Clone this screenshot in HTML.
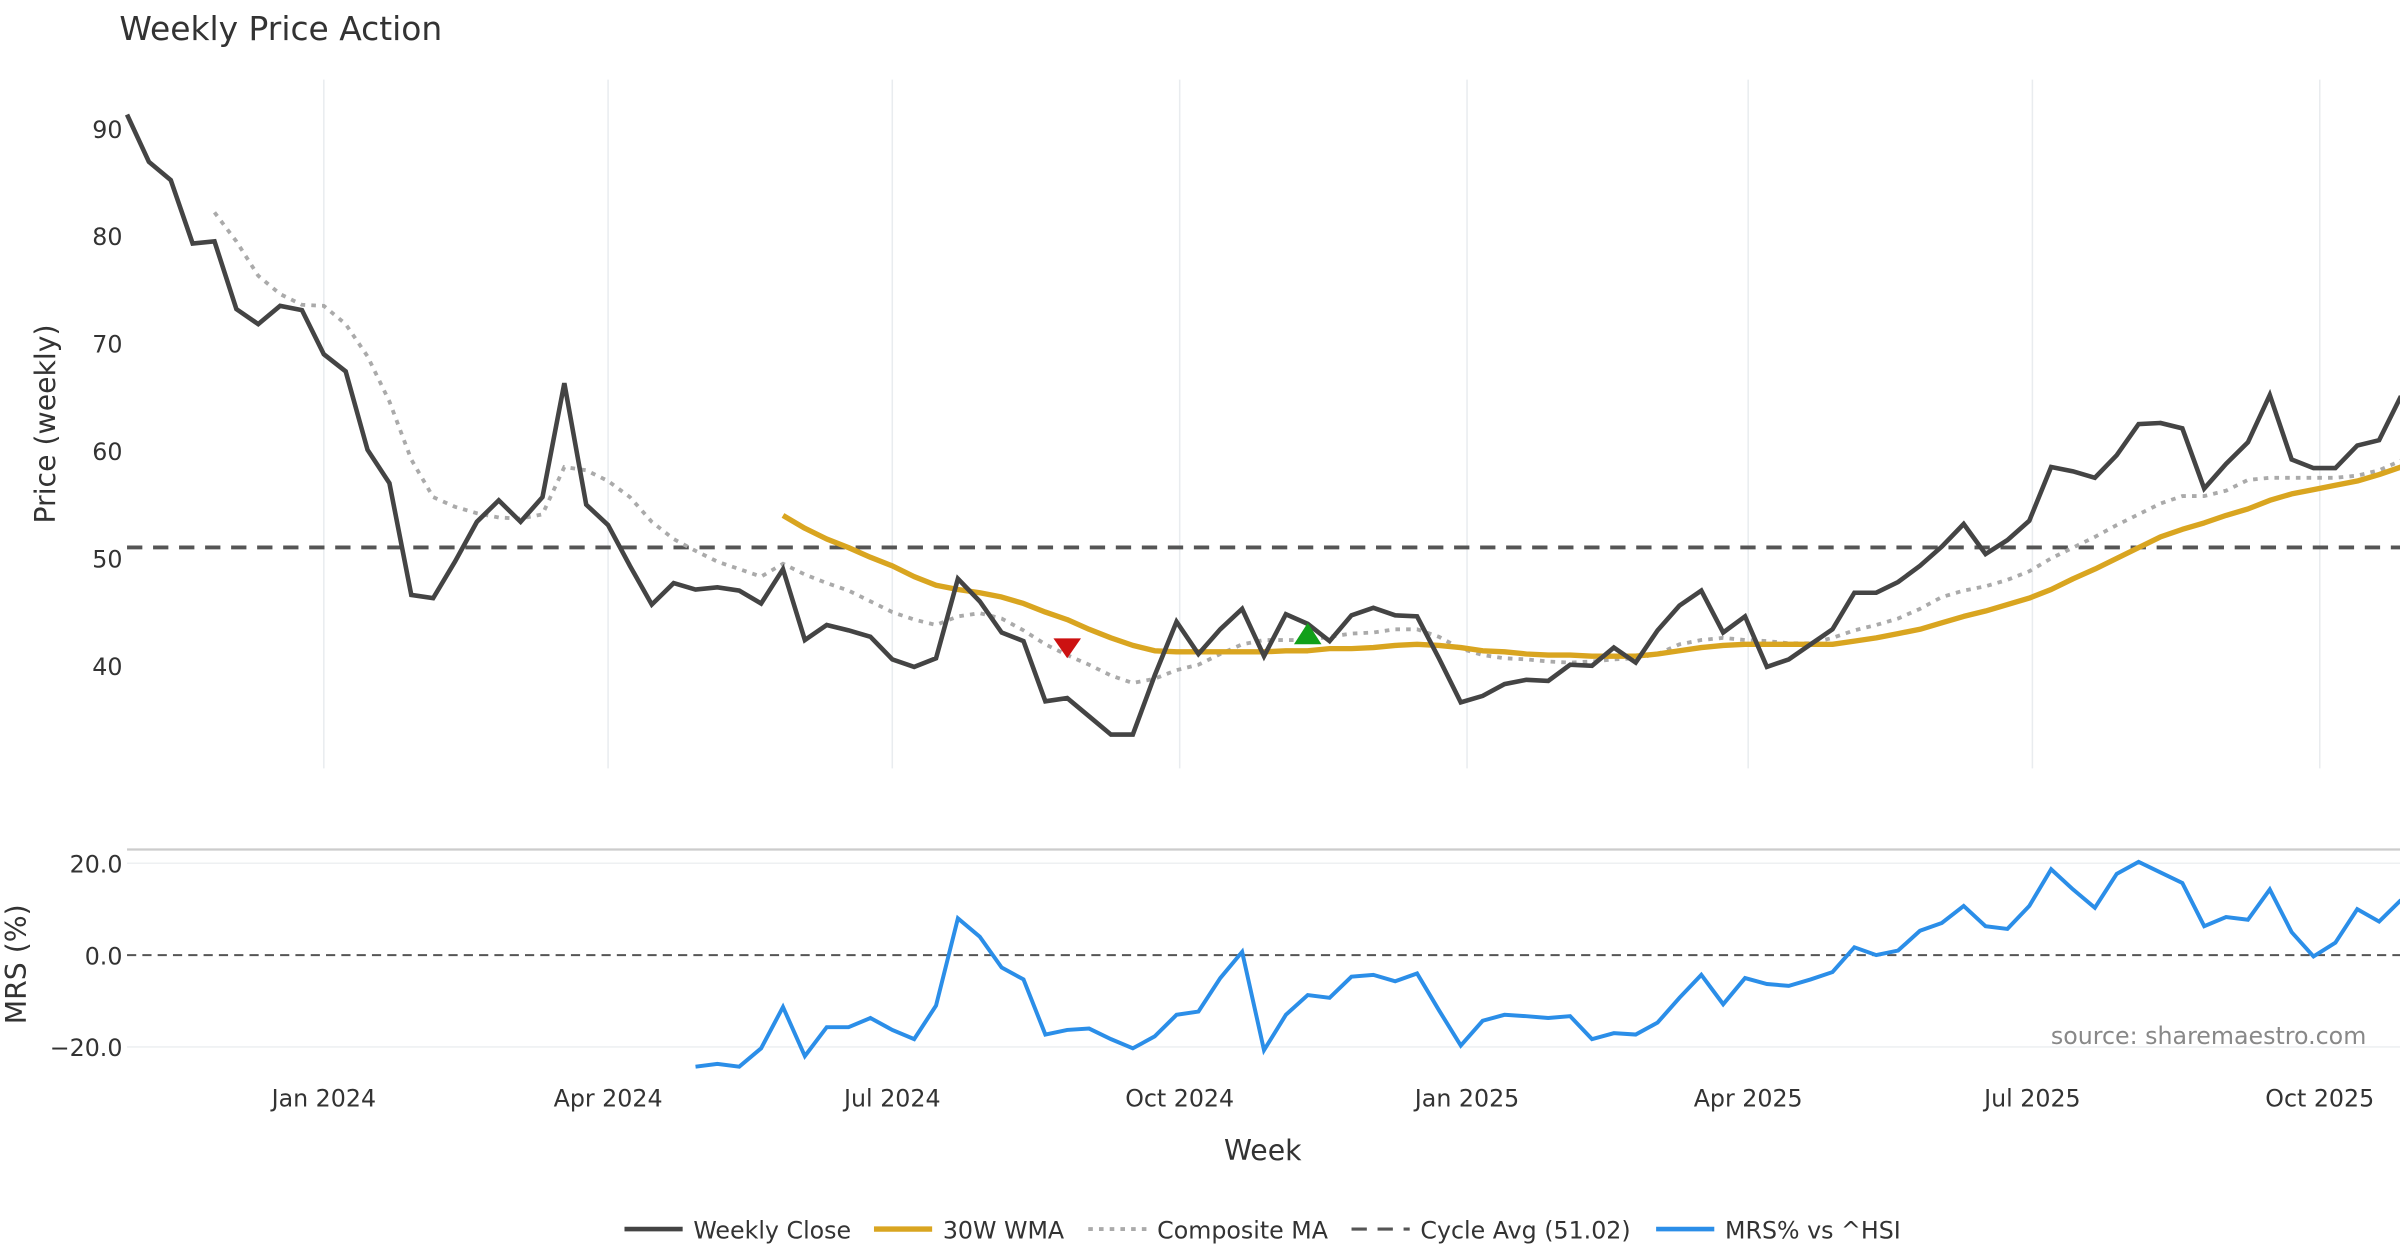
<!DOCTYPE html>
<html><head><meta charset="utf-8"><style>
html,body{margin:0;padding:0;background:#fff;}
svg{display:block;font-family:"DejaVu Sans","Liberation Sans",sans-serif;}
</style></head><body>
<svg id="chart" width="2400" height="1260" viewBox="0 0 1568 823.2" xmlns="http://www.w3.org/2000/svg">
<rect width="1568" height="823.2" fill="#fff"/>
<text x="78" y="26" font-size="21.5" fill="#333">Weekly Price Action</text>
<g id="grid"></g><g id="series"></g><g id="axes"></g>
</svg>
<script>
const startDate = new Date(2023, 9, 30);
const closes = [91.3,86.9,85.2,79.3,79.5,73.2,71.8,73.5,73.1,69,67.4,60.1,57,46.6,46.3,49.7,53.4,55.4,53.4,55.7,66.3,55,53.1,49.3,45.7,47.7,47.1,47.3,47,45.8,49,42.4,43.8,43.3,42.7,40.6,39.9,40.7,48.1,46,43.1,42.3,36.7,37,35.3,33.6,33.6,39.1,44.1,41.1,43.4,45.3,40.9,44.8,43.9,42.3,44.7,45.4,44.7,44.6,40.7,36.6,37.2,38.3,38.7,38.6,40.1,40,41.7,40.3,43.3,45.6,47,43.1,44.6,39.9,40.6,42,43.4,46.8,46.8,47.8,49.3,51.1,53.2,50.4,51.7,53.5,58.5,58.1,57.5,59.6,62.5,62.6,62.1,56.5,58.8,60.8,65.2,59.2,58.4,58.4,60.5,61,65.1];
const wmaStart = 30;
const wma = [54,52.8,51.8,51,50.1,49.3,48.3,47.5,47.1,46.8,46.4,45.8,45,44.3,43.4,42.6,41.9,41.4,41.3,41.3,41.3,41.3,41.3,41.4,41.4,41.6,41.6,41.7,41.9,42,41.9,41.7,41.4,41.3,41.1,41,41,40.9,40.9,40.9,41.1,41.4,41.7,41.9,42,42,42,42,42,42.3,42.6,43,43.4,44,44.6,45.1,45.7,46.3,47.1,48.1,49,50,51,52,52.7,53.3,54,54.6,55.4,56,56.4,56.8,57.2,57.8,58.5];
const compStart = 4;
const composite = [82.2,79.5,76.3,74.6,73.6,73.5,71.8,68.8,64.6,59.2,55.7,54.8,54.2,53.8,53.7,54.1,58.5,58.2,57.2,55.7,53.4,51.8,50.7,49.7,49,48.3,49.5,48.5,47.7,47,46,45,44.3,43.8,44.6,44.9,44.4,43.3,42,41,40.1,39.1,38.4,38.8,39.6,40.1,41.1,42,42.4,42.4,42.4,42.7,43,43.1,43.4,43.4,42.7,41.6,41,40.7,40.6,40.4,40.3,40.4,40.6,40.7,41.1,42,42.4,42.6,42.4,42.3,42.1,42.1,42.6,43.3,43.8,44.4,45.3,46.4,47,47.4,48,48.8,50,51,52,53.1,54.1,55.1,55.8,55.8,56.3,57.3,57.5,57.5,57.5,57.5,57.7,58.2,59.1];
const mrsStart = 26;
const mrs = [-24.3,-23.7,-24.3,-20.3,-11.3,-22,-15.7,-15.7,-13.7,-16.3,-18.3,-11,8,4,-2.7,-5.3,-17.3,-16.3,-16,-18.3,-20.3,-17.7,-13,-12.3,-5,0.7,-20.7,-13,-8.7,-9.3,-4.7,-4.3,-5.7,-4,-12,-19.7,-14.3,-13,-13.3,-13.7,-13.3,-18.3,-17,-17.3,-14.7,-9.3,-4.3,-10.7,-5,-6.3,-6.7,-5.3,-3.7,1.7,0,1,5.3,7,10.7,6.3,5.7,10.7,18.7,14.3,10.3,17.7,20.3,18,15.7,6.3,8.3,7.7,14.3,5,-0.3,2.7,10,7.3,12];
const cycleAvg = 51.02;
const sellSignals = [[43, 41.7]];
const buySignals = [[54, 43.0]];
const priceTicks = [40,50,60,70,80,90];
const mrsTicks = [-20,0,20];
const mrsTickLabels = ["\u221220.0","0.0","20.0"];
const dateTickLabels = ["Jan 2024","Apr 2024","Jul 2024","Oct 2024","Jan 2025","Apr 2025","Jul 2025","Oct 2025"];
const dateTicks = [[2024,0,1],[2024,3,1],[2024,6,1],[2024,9,1],[2025,0,1],[2025,3,1],[2025,6,1],[2025,9,1]];

const NS="http://www.w3.org/2000/svg";
const X0=83, WK=14.285;
const xi = i => X0 + i*WK;
const xd = d => X0 + (d - startDate)/86400000/7*WK;
const yp = v => 435 - (v-40)*7.02;
const ym = v => 624 - v*3;
function mk(parent, tag, attrs){const e=document.createElementNS(NS,tag);for(const k in attrs)e.setAttribute(k,attrs[k]);document.getElementById(parent).appendChild(e);return e;}
function pts(arr, off, yf){return arr.map((v,i)=>xi(i+off).toFixed(2)+","+yf(v).toFixed(2)).join(" ");}

dateTicks.forEach((d,i)=>{
  const x=xd(new Date(d[0],d[1],d[2]));
  let g=mk('grid','line',{x1:x,x2:x,y1:52,y2:502,stroke:'#e9ecef','stroke-width':1});
  
  
  let t=mk('axes','text',{x:x,y:723,'font-size':15.5,fill:'#333','text-anchor':'middle'});
  t.textContent=dateTickLabels[i];
  
  
});
priceTicks.forEach(v=>{
  let t=mk('axes','text',{x:80,y:yp(v)+6,'font-size':15.5,fill:'#333','text-anchor':'end'});
  t.textContent=v;
  
  
});
mrsTicks.forEach((v,i)=>{
  if(v!==0){let g=mk('grid','line',{x1:83,x2:1568,y1:ym(v),y2:ym(v),stroke:'#eef0f2','stroke-width':1});
  
  }
  let t=mk('axes','text',{x:80,y:ym(v)+6,'font-size':15.5,fill:'#333','text-anchor':'end'});
  t.textContent=mrsTickLabels[i];
  
  
});
let sep=mk('grid','line',{x1:83,x2:1568,y1:555,y2:555,stroke:'#ccc','stroke-width':1.5});



let ca=mk('series','line',{x1:83,x2:1568,y1:yp(cycleAvg),y2:yp(cycleAvg),stroke:'#555','stroke-width':2.5,'stroke-dasharray':'10,7'});


let zl=mk('series','line',{x1:83,x2:1568,y1:ym(0),y2:ym(0),stroke:'#555','stroke-width':1.3,'stroke-dasharray':'6,4'});


let cm=mk('series','polyline',{points:pts(composite,compStart,yp),fill:'none',stroke:'#aaa','stroke-width':2.5,'stroke-dasharray':'3,4'});


let wl=mk('series','polyline',{points:pts(wma,wmaStart,yp),fill:'none',stroke:'#d9a520','stroke-width':3.5,'stroke-linejoin':'round'});


let cl=mk('series','polyline',{points:pts(closes,0,yp),fill:'none',stroke:'#444','stroke-width':3,'stroke-linejoin':'miter'});


let ml=mk('series','polyline',{points:pts(mrs,mrsStart,ym),fill:'none',stroke:'#2b8ee8','stroke-width':2.6});


sellSignals.forEach(s=>{const x=xi(s[0]),y=yp(s[1]);
  let p=mk('series','polygon',{points:`${x-9},${y-6} ${x+9},${y-6} ${x},${y+7}`,fill:'#cc1111'});
  
  });
buySignals.forEach(s=>{const x=xi(s[0]),y=yp(s[1]);
  let p=mk('series','polygon',{points:`${x-9},${y+7} ${x+9},${y+7} ${x},${y-7}`,fill:'#11a01a'});
  
  });
</script>
<svg style="position:absolute;left:0;top:0" width="2400" height="1260" viewBox="0 0 1568 823.2" xmlns="http://www.w3.org/2000/svg" font-family="DejaVu Sans, Liberation Sans, sans-serif">
<text transform="translate(36,277) rotate(-90)" font-size="18.5" fill="#333" text-anchor="middle">Price (weekly)</text>
<text transform="translate(17,630) rotate(-90)" font-size="18.5" fill="#333" text-anchor="middle">MRS (%)</text>
<text x="825" y="758" font-size="18.5" fill="#333" text-anchor="middle">Week</text>
<text x="1546" y="682" font-size="15.5" fill="#888" text-anchor="end">source: sharemaestro.com</text>
<g font-size="15.5" fill="#333">
<g><line x1="408" x2="446" y1="803" y2="803" stroke="#444" stroke-width="3"/><text x="453" y="809">Weekly Close</text></g>
<g><line x1="571" x2="609" y1="803" y2="803" stroke="#d9a520" stroke-width="3.5"/><text x="616" y="809">30W WMA</text></g>
<g><line x1="711" x2="749" y1="803" y2="803" stroke="#aaa" stroke-width="2.5" stroke-dasharray="3,4"/><text x="756" y="809">Composite MA</text></g>
<g><line x1="883" x2="921" y1="803" y2="803" stroke="#555" stroke-width="2" stroke-dasharray="10,7"/><text x="928" y="809">Cycle Avg (51.02)</text></g>
<g><line x1="1082" x2="1120" y1="803" y2="803" stroke="#2b8ee8" stroke-width="3"/><text x="1127" y="809">MRS% vs ^HSI</text></g>
</g>
</svg>
</body></html>
